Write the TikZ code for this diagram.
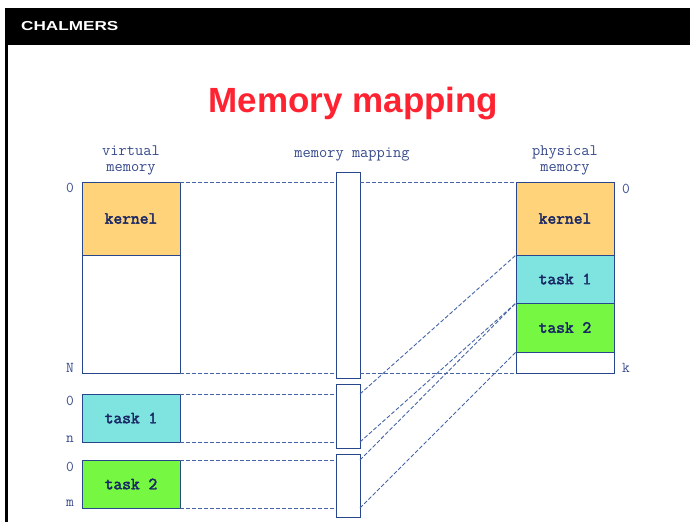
\documentclass[tikz,border=0pt]{standalone}
\usepackage{fontspec}
\setmainfont{Liberation Sans}
\setmonofont{Latin Modern Mono}[AutoFakeBold=2.5]
\usepackage{xcolor}
\usetikzlibrary{positioning}

\definecolor{kernelfill}{RGB}{255,211,122}
\definecolor{taskonefill}{RGB}{127,227,224}
\definecolor{tasktwofill}{RGB}{118,248,66}
\definecolor{memline}{RGB}{40,70,140}
\definecolor{memtext}{RGB}{25,40,100}
\definecolor{labtext}{RGB}{55,75,140}
\definecolor{dashline}{RGB}{70,100,165}
\definecolor{titlered}{RGB}{255,35,50}

\begin{document}
\begin{tikzpicture}[
    x=1pt, y=-1pt,
    mem/.style={draw=memline, line width=1pt, inner sep=0pt, outer sep=0pt, minimum width=98pt, font=\ttfamily\bfseries\fontsize{17}{17}\selectfont, text=memtext},
    mapbox/.style={draw=memline, fill=white, line width=1pt, inner sep=0pt, outer sep=0pt, minimum width=24pt, anchor=north west},
    addr/.style={font=\ttfamily\fontsize{15}{15}\selectfont, text=labtext, inner sep=0pt},
    head/.style={font=\ttfamily\fontsize{16}{16}\selectfont, text=labtext, align=center, inner sep=0pt},
    link/.style={draw=dashline, dash pattern=on 4pt off 2pt, line width=0.9pt}
]
\useasboundingbox (0,0) rectangle (690,522);

% header
\fill[black] (5,8) rectangle (690,45);
\draw[line width=3pt] (6.5,44) -- (6.5,522);
\node[anchor=base west, inner sep=0pt, text=white, font=\bfseries\fontsize{13}{13}\selectfont] (logo) at (21,30) {\scalebox{1.32}[1]{CHALMERS}};
\node[anchor=base, inner sep=0pt, text=titlered, font=\bfseries\fontsize{35}{35}\selectfont] (title) at (353.5,112) {Memory mapping};

% virtual memory side
\node[mem, fill=kernelfill, minimum height=73pt, anchor=north west] (vkern) at (82,182) {kernel};
\node[mem, minimum height=118pt, below=0pt of vkern] (vfree) {};
\node[mem, fill=taskonefill, minimum height=48pt, anchor=north west] (vtask1) at (82,394) {task 1};
\node[mem, fill=tasktwofill, minimum height=48pt, anchor=north west] (vtask2) at (82,460) {task 2};
\node[head, above=7pt of vkern] (vhead) {virtual\\memory};

\node[addr, anchor=base east] (vtop) at ([shift={(-8,10)}]vkern.north west) {0};
\node[addr, anchor=base east] (vend) at ([shift={(-8,-1)}]vfree.south west) {N};
\node[addr, anchor=base east] (t1top) at ([shift={(-8,11)}]vtask1.north west) {0};
\node[addr, anchor=base east] (t1end) at ([shift={(-8,0)}]vtask1.south west) {n};
\node[addr, anchor=base east] (t2top) at ([shift={(-8,11)}]vtask2.north west) {0};
\node[addr, anchor=base east] (t2end) at ([shift={(-8,-2)}]vtask2.south west) {m};

% physical memory side
\node[mem, fill=kernelfill, minimum height=73pt, anchor=north west] (pkern) at (516,182) {kernel};
\node[mem, fill=taskonefill, minimum height=48pt, below=0pt of pkern] (ptask1) {task 1};
\node[mem, fill=tasktwofill, minimum height=49pt, below=0pt of ptask1] (ptask2) {task 2};
\node[mem, minimum height=21pt, below=0pt of ptask2] (pfree) {};
\node[head, above=7pt of pkern] (phead) {physical\\memory};

\node[addr, anchor=base west] (ptop) at ([shift={(8,11)}]pkern.north east) {0};
\node[addr, anchor=base west] (pend) at ([shift={(8,-1)}]pfree.south east) {k};

% mapping column
\node[mapbox, minimum height=206pt] (mapall) at (336,172) {};
\node[mapbox, minimum height=64pt] (map1) at (336,384) {};
\node[mapbox, minimum height=63pt] (map2) at (336,454) {};
\node[head, above=11pt of mapall, xshift=4pt] (mhead) {memory mapping};

% mapping lines
\draw[link] (vkern.north east) -- (vkern.north east -| mapall.west);
\draw[link] (mapall.east |- pkern.north west) -- (pkern.north west);
\draw[link] (vfree.south east) -- (vfree.south east -| mapall.west);
\draw[link] (mapall.east |- pfree.south west) -- (pfree.south west);
\draw[link] (vtask1.north east) -- (vtask1.north east -| map1.west);
\draw[link] (vtask1.south east) -- (vtask1.south east -| map1.west);
\draw[link] (vtask2.north east) -- (vtask2.north east -| map2.west);
\draw[link] (vtask2.south east) -- (vtask2.south east -| map2.west);
\draw[link] (map1.east |- vtask1.north east) -- (ptask1.north west);
\draw[link] (map1.east |- vtask1.south east) -- (ptask1.south west);
\draw[link] (map2.east |- vtask2.north east) -- (ptask2.north west);
\draw[link] (map2.east |- vtask2.south east) -- (ptask2.south west);

\end{tikzpicture}
\end{document}
